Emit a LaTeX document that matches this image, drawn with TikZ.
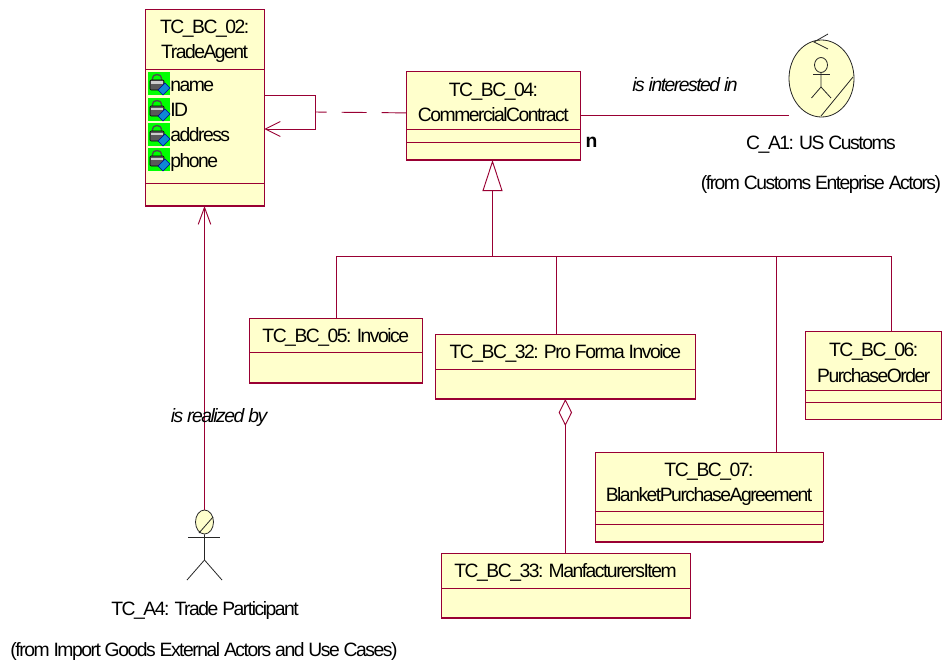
\documentclass[tikz,border=0pt]{standalone}
\usepackage{fontspec}
\setmainfont[LetterSpace=-7.7]{Liberation Sans}
\usetikzlibrary{shapes.geometric,arrows.meta}
\definecolor{umlline}{HTML}{990033}
\definecolor{umlfill}{HTML}{FFFFCC}
\newlength{\pxu}\setlength{\pxu}{0.75pt}
\newcommand{\ub}{\kern-1.1pt\_\kern-1.1pt}
\tikzset{
  x=0.75pt,y=-0.75pt,
  compart/.style={draw=umlline,fill=umlfill,line width=0.7pt,inner sep=0pt,outer sep=0pt,align=center,font=\fontsize{14.5}{19}\selectfont},
  lbl/.style={inner sep=0pt,font=\fontsize{14.5}{16}\selectfont},
  ilbl/.style={lbl,font=\fontsize{14.5}{16}\selectfont\itshape},
  attr/.style={lbl,anchor=west},
  conn/.style={draw=umlline,line width=0.7pt},
  openarrow/.style={-{Straight Barb[length=11.25pt,width=11.25pt,line width=0.7pt]}},
  openarrowlong/.style={-{Straight Barb[length=12.75pt,width=9.4pt,line width=0.7pt]}},
  actorline/.style={draw=black!85,line width=0.6pt},
}
% \classbox{name}{x1}{x2}{y1}{y2}{y3}{y4}{text}
\newcommand{\classbox}[8]{%
  \node[compart,minimum width={(#3-#2)*\pxu},minimum height={(#5-#4)*\pxu}] (#1) at ({(#2+#3)/2},{(#4+#5)/2}) {\rule{0pt}{13.5pt}#8};
  \node[compart,anchor=north,minimum width={(#3-#2)*\pxu},minimum height={(#6-#5)*\pxu}] (#1a) at (#1.south) {};
  \node[compart,anchor=north,minimum width={(#3-#2)*\pxu},minimum height={(#7-#6)*\pxu}] (#1b) at (#1a.south) {};
  \draw[umlline,line width=1.2pt] (#1b.south west) -- (#1b.south east);
}
% \classtwo{name}{x1}{x2}{y1}{y2}{y3}{text}
\newcommand{\classtwo}[7]{%
  \node[compart,minimum width={(#3-#2)*\pxu},minimum height={(#5-#4)*\pxu}] (#1) at ({(#2+#3)/2},{(#4+#5)/2}) {\rule{0pt}{14pt}#7};
  \node[compart,anchor=north,minimum width={(#3-#2)*\pxu},minimum height={(#6-#5)*\pxu}] (#1a) at (#1.south) {};
  \draw[umlline,line width=1.2pt] (#1a.south west) -- (#1a.south east);
}
\newcommand{\lockicon}[2]{%
  \begin{scope}[shift={(#1,#2)}]
    \fill[green] (0,0) rectangle (22,23);
    \draw[black!70,line width=1pt] (4.5,8) -- (4.5,6) arc[start angle=180,end angle=360,x radius=4.5,y radius=3.5] -- (13.5,8);
    \fill[black!65,draw=black,line width=0.4pt,rounded corners=0.8pt] (2,8) rectangle (16,18);
    \fill[black!20] (3,9.5) rectangle (15,12);
    \fill[cyan!70!blue,draw=blue!60!black,line width=0.4pt] (10,18) -- (17,11) -- (22,16) -- (15,23) -- cycle;
  \end{scope}
}
\begin{document}
\begin{tikzpicture}
\useasboundingbox (0,0) rectangle (945,660);
\fill[white] (0,0) rectangle (945,660);

% TC_BC_02
\classbox{cb}{145}{264.3}{9}{69}{183}{206}{TC\ub BC\ub 02:\\TradeAgent}
\lockicon{148}{72}\lockicon{148}{98}\lockicon{148}{123}\lockicon{148}{148}
\node[attr] (an) at (170,86) {name};
\node[attr] (ai) at (170,110) {ID};
\node[attr] (aa) at (170,135) {address};
\node[attr] (ap) at (170,162) {phone};

% TC_BC_04
\classbox{cc}{406.7}{580}{71}{129.3}{142.3}{160}{TC\ub BC\ub 04:\\CommercialContract}
% others
\classbox{cf}{805.7}{941.7}{331}{390}{402.5}{419.5}{TC\ub BC\ub 06:\\PurchaseOrder}
\classbox{cg}{595}{823}{452}{511.7}{524.3}{541.7}{TC\ub BC\ub 07:\\BlanketPurchaseAgreement}
\classtwo{ce}{249.5}{422}{318}{352}{383}{TC\ub BC\ub 05: Invoice}
\classtwo{cp}{435.7}{695}{334}{369}{399}{TC\ub BC\ub 32: Pro Forma Invoice}
\classtwo{cm}{441}{690}{553}{588}{618}{TC\ub BC\ub 33: ManfacturersItem}

% US Customs actor
\node[draw=black!85,fill=umlfill,ellipse,line width=0.6pt,minimum width=65\pxu,minimum height=77\pxu,inner sep=0pt] (us) at (821.5,78.5) {};
\node[draw=black!85,ellipse,line width=0.6pt,minimum width=13\pxu,minimum height=15\pxu,inner sep=0pt] (ush) at (821,65) {};
\draw[actorline] (813,74) -- (830,74);
\draw[actorline] (ush.south) -- (821,87) -- (811.5,98);
\draw[actorline] (821,87) -- (831,98);
\draw[actorline] (821,116) -- (853,77);
\draw[actorline] (828,34) -- (814,42) -- (828,49);

% Trade Participant actor
\node[draw=black!85,fill=umlfill,ellipse,line width=0.6pt,minimum width=18\pxu,minimum height=24\pxu,inner sep=0pt] (tp) at (204.5,522) {};
\draw[actorline] (199,533) -- (213,517);
\draw[actorline] (188,537) -- (220,537);
\draw[actorline] (tp.south) -- (204.5,560) -- (187,580);
\draw[actorline] (204.5,560) -- (222,580);

% connectors
\draw[conn,openarrow] ([yshift=23.25pt]cba.east) -- ++(51,0) -- ++(0,34) -- ++(-51,0);
\coordinate (dep) at (315,112);
\draw[conn,dash pattern=on 18.75pt off 11.25pt] ([yshift=-9.56pt]cc.west) -- (dep);
\coordinate (asc) at (789,115.5);
\draw[conn] (cc.east |- asc) -- (asc);
\coordinate (bus) at (492.5,256);
\draw[conn,{Triangle[open,fill=white,length=23.25pt,width=15pt,line width=0.7pt]}-] (bus |- ccb.south) -- (bus);
\coordinate (j5) at (336,256);
\coordinate (j32) at (556,256);
\coordinate (j7) at (776,256);
\coordinate (j6) at (891.7,256);
\draw[conn] (j5) -- (j6);
\draw[conn] (j5) -- (j5 |- ce.north);
\draw[conn] (j32) -- (j32 |- cp.north);
\draw[conn] (j7) -- (j7 |- cg.north);
\draw[conn] (j6) -- (j6 |- cf.north);
\draw[conn,{Diamond[open,fill=white,length=20.25pt,width=10pt,line width=0.7pt]}-] (cpa.south) -- (cm.north -| cpa.south);
\draw[conn,openarrowlong] (tp.north) -- (tp.north |- cbb.south);

% labels
\node[ilbl] (l1) at (685,85) {is interested in};
\node[lbl,font=\fontsize{14.5}{16}\selectfont\bfseries] (l2) at (591.5,142) {n};
\node[ilbl] (l3) at (219,417) {is realized by};
\node[lbl] (l4) at (821,145) {C\ub A1: US Customs};
\node[lbl] (l5) at (821,185) {(from Customs Enteprise Actors)};
\node[lbl] (l6) at (205,610) {TC\ub A4: Trade Participant};
\node[lbl] (l7) at (204,651) {(from Import Goods External Actors and Use Cases)};
\end{tikzpicture}
\end{document}
